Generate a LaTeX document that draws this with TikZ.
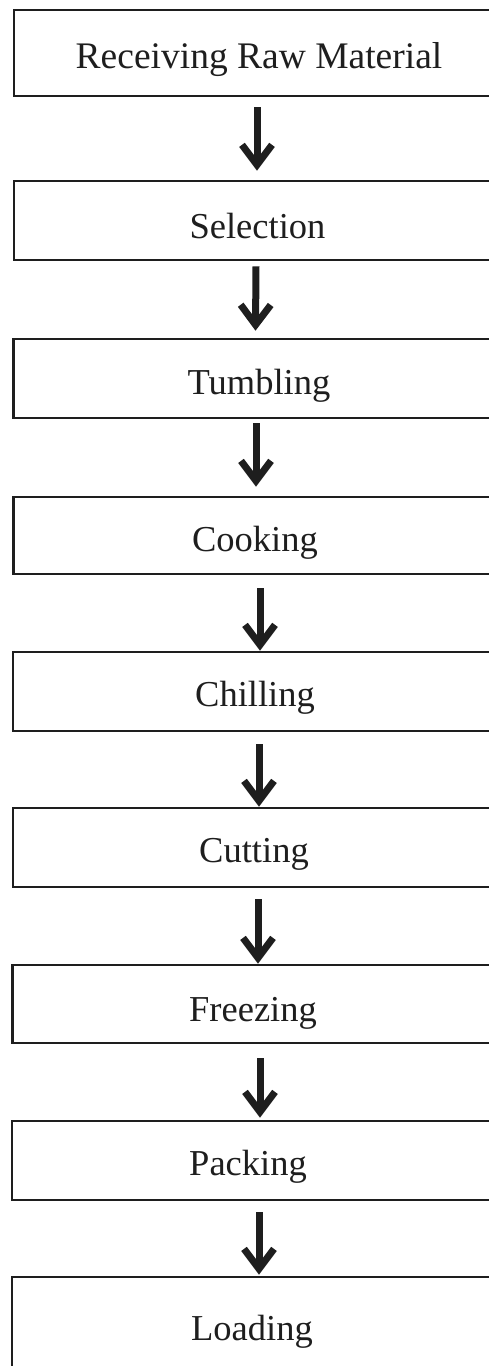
\documentclass[tikz,border=0pt]{standalone}
\usepackage{fontspec}
\setmainfont{Liberation Serif}
\usetikzlibrary{arrows.meta}
\definecolor{ink}{HTML}{1E1E1E}
\begin{document}
\begin{tikzpicture}[x=1pt,y=-1pt,
  stepbox/.style={draw=ink, line width=2.6pt, rectangle, inner sep=0pt, minimum width=496pt},
  steplabel/.style={anchor=base, inner sep=0pt, text=ink, font=\fontsize{36.5}{40}\selectfont},
  flow/.style={draw=ink, line width=7pt, -{Straight Barb[length=20pt, width=30pt, line width=7pt]}}]
\useasboundingbox (0,0) rectangle (489,1366);
\clip (0,0) rectangle (489,1366);

% process boxes (open to the right and bottom of the sheet)
\node[stepbox, minimum height=86pt] (b1) at (262,53) {};
\node[stepbox, minimum height=79pt] (b2) at (262,220.5) {};
\node[stepbox, minimum height=79pt] (b3) at (261.5,378.5) {};
\node[stepbox, minimum height=77pt] (b4) at (261.5,535.5) {};
\node[stepbox, minimum height=79pt] (b5) at (261,691.5) {};
\node[stepbox, minimum height=79pt] (b6) at (261,847.5) {};
\node[stepbox, minimum height=78pt] (b7) at (260.5,1004) {};
\node[stepbox, minimum height=79pt] (b8) at (260,1160.5) {};
\node[stepbox, minimum height=123pt] (b9) at (260,1338.5) {};

% step names
\node[steplabel, font=\fontsize{37.5}{40}\selectfont] (t1) at (259,68) {Receiving Raw Material};
\node[steplabel] (t2) at (257.5,238) {Selection};
\node[steplabel] (t3) at (259,394) {Tumbling};
\node[steplabel] (t4) at (255,551.5) {Cooking};
\node[steplabel] (t5) at (255,706.5) {Chilling};
\node[steplabel] (t6) at (254,862.5) {Cutting};
\node[steplabel] (t7) at (253,1021.5) {Freezing};
\node[steplabel] (t8) at (248,1175) {Packing};
\node[steplabel] (t9) at (252,1340.5) {Loading};

% flow arrows
\draw[flow] ([xshift=-5pt,yshift=-10pt]b1.south) -- ([xshift=-5pt,yshift=9pt]b2.north);
\draw[flow] ([xshift=-6pt,yshift=-5pt]b2.south) -- ([xshift=-6pt,yshift=7pt]b3.north);
\draw[flow] ([xshift=-5.5pt,yshift=-4pt]b3.south) -- ([xshift=-5.5pt,yshift=9pt]b4.north);
\draw[flow] ([xshift=-1.5pt,yshift=-13pt]b4.south) -- ([xshift=-1pt,yshift=0pt]b5.north);
\draw[flow] ([xshift=-2pt,yshift=-12pt]b5.south) -- ([xshift=-2pt,yshift=0pt]b6.north);
\draw[flow] ([xshift=-3pt,yshift=-11pt]b6.south) -- ([xshift=-2.5pt,yshift=0pt]b7.north);
\draw[flow] ([xshift=-0.5pt,yshift=-14pt]b7.south) -- ([xshift=0pt,yshift=2pt]b8.north);
\draw[flow] ([xshift=-1pt,yshift=-11pt]b8.south) -- ([xshift=-1pt,yshift=1pt]b9.north);
\end{tikzpicture}
\end{document}
